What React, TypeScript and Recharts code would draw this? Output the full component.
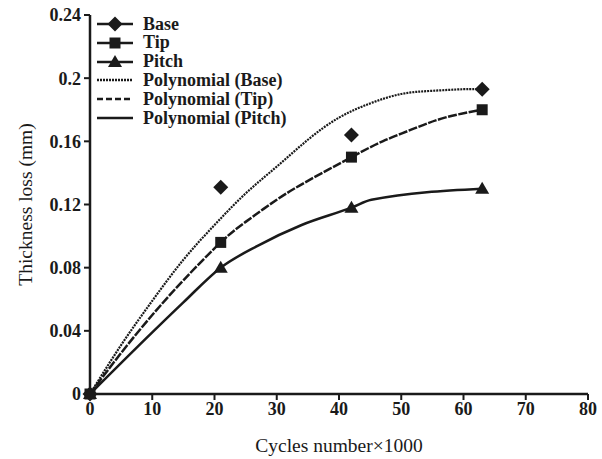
import React from "react";
import {
  ComposedChart,
  Line,
  Scatter,
  XAxis,
  YAxis,
  Legend,
} from "recharts";

// measured points (cycles x1000 vs thickness loss, mm)
const cycles = [0, 21, 42, 63];
const baseLoss = [0, 0.131, 0.164, 0.193];
const tipLoss = [0, 0.096, 0.15, 0.18];
const pitchLoss = [0, 0.08, 0.118, 0.13];

// trend curves
const baseFitX = [0, 5, 10, 15, 20, 25, 30, 35, 40, 45, 50, 55, 60, 63];
const baseFitY = [0, 0.031, 0.059, 0.085, 0.107, 0.127, 0.144, 0.161, 0.175, 0.184, 0.19, 0.192, 0.193, 0.193];
const tipFitX = [0, 5, 10, 15, 21, 25, 30, 35, 42, 47, 52, 57, 63];
const tipFitY = [0, 0.026, 0.05, 0.072, 0.096, 0.109, 0.123, 0.135, 0.15, 0.16, 0.168, 0.175, 0.18];
const pitchFitX = [0, 10, 15, 21, 27, 34, 42, 45.2, 63];
const pitchFitY = [0, 0.039, 0.058, 0.08, 0.094, 0.107, 0.118, 0.123, 0.13];

const xTicks = [0, 10, 20, 30, 40, 50, 60, 70, 80];
const yTicks = [0, 0.04, 0.08, 0.12, 0.16, 0.2, 0.24];

const INK = "#1a1a1a";
const FONT = '"Liberation Serif", "Times New Roman", serif';

const toPoints = (xs: number[], ys: number[]) => xs.map((x, i) => ({ x, y: ys[i] }));

const basePts = toPoints(cycles, baseLoss);
const tipPts = toPoints(cycles, tipLoss);
const pitchPts = toPoints(cycles, pitchLoss);
const baseFit = toPoints(baseFitX, baseFitY);
const tipFit = toPoints(tipFitX, tipFitY);
const pitchFit = toPoints(pitchFitX, pitchFitY);

type Mark = "diamond" | "square" | "triangle";

function markerPath(kind: Mark, cx: number, cy: number) {
  if (kind === "diamond") {
    const r = 7.5;
    return `M${cx},${cy - r}L${cx + r},${cy}L${cx},${cy + r}L${cx - r},${cy}Z`;
  }
  if (kind === "square") {
    const r = 5.5;
    return `M${cx - r},${cy - r}L${cx + r},${cy - r}L${cx + r},${cy + r}L${cx - r},${cy + r}Z`;
  }
  return `M${cx},${cy - 7}L${cx + 7},${cy + 5}L${cx - 7},${cy + 5}Z`;
}

const shapeOf = (kind: Mark) => (props: any) => {
  const { cx, cy } = props;
  if (cx == null || cy == null) return <g />;
  return <path d={markerPath(kind, cx, cy)} fill={INK} stroke="none" />;
};

const legendRows: { name: string; mark?: Mark; dash?: string }[] = [
  { name: "Base", mark: "diamond" },
  { name: "Tip", mark: "square" },
  { name: "Pitch", mark: "triangle" },
  { name: "Polynomial (Base)", dash: "2 1" },
  { name: "Polynomial (Tip)", dash: "6 3" },
  { name: "Polynomial (Pitch)" },
];

function LegendBox() {
  return (
    <div style={{ fontFamily: FONT, fontWeight: 700, fontSize: 18, color: INK }}>
      {legendRows.map((r) => (
        <div key={r.name} style={{ display: "flex", alignItems: "center", height: 18.8, lineHeight: "18.8px" }}>
          <svg width={40} height={18} style={{ display: "block" }}>
            <line x1={2} y1={9} x2={38} y2={9} stroke={INK} strokeWidth={2.5} strokeDasharray={r.dash} />
            {r.mark && <path d={markerPath(r.mark, 20, 9)} fill={INK} />}
          </svg>
          <span style={{ marginLeft: 8, whiteSpace: "nowrap" }}>{r.name}</span>
        </div>
      ))}
    </div>
  );
}

export default function App() {
  const tickStyle = { fontFamily: FONT, fontWeight: 700, fontSize: 18, fill: INK };
  return (
    <div style={{ position: "absolute", left: 0, top: 0, background: "#fff" }}>
      <ComposedChart width={602} height={459} margin={{ top: 15, right: 14, bottom: 0, left: 10 }}>
        <XAxis
          type="number"
          dataKey="x"
          domain={[0, 80]}
          ticks={xTicks}
          height={65}
          tick={tickStyle}
          tickSize={6}
          tickMargin={2}
          axisLine={{ stroke: INK, strokeWidth: 2.5 }}
          tickLine={{ stroke: INK, strokeWidth: 2 }}
          label={{
            value: "Cycles number×1000",
            position: "insideBottom",
            offset: 7,
            style: { fontFamily: FONT, fontSize: 19.5, fill: INK },
          }}
        />
        <YAxis
          type="number"
          dataKey="y"
          domain={[0, 0.24]}
          ticks={yTicks}
          width={80}
          tick={tickStyle}
          tickSize={6}
          tickMargin={3}
          axisLine={{ stroke: INK, strokeWidth: 2.5 }}
          tickLine={{ stroke: INK, strokeWidth: 2 }}
          label={{
            value: "Thickness loss (mm)",
            angle: -90,
            position: "insideLeft",
            offset: 15,
            style: { fontFamily: FONT, fontSize: 19.5, fill: INK, textAnchor: "middle" },
          }}
        />
        <Legend
          layout="vertical"
          align="center"
          verticalAlign="middle"
          wrapperStyle={{ left: 95, top: 14.6, width: "auto" }}
          content={() => <LegendBox />}
        />
        <Line data={baseFit} dataKey="y" type="natural" stroke={INK} strokeWidth={2.2} strokeDasharray="2 1" dot={false} isAnimationActive={false} legendType="none" />
        <Line data={tipFit} dataKey="y" type="natural" stroke={INK} strokeWidth={2.5} strokeDasharray="9 1.5" dot={false} isAnimationActive={false} legendType="none" />
        <Line data={pitchFit} dataKey="y" type="monotone" stroke={INK} strokeWidth={2.5} dot={false} isAnimationActive={false} legendType="none" />
        <Scatter name="Base" data={basePts} shape={shapeOf("diamond")} isAnimationActive={false} />
        <Scatter name="Tip" data={tipPts} shape={shapeOf("square")} isAnimationActive={false} />
        <Scatter name="Pitch" data={pitchPts} shape={shapeOf("triangle")} isAnimationActive={false} />
      </ComposedChart>
    </div>
  );
}
